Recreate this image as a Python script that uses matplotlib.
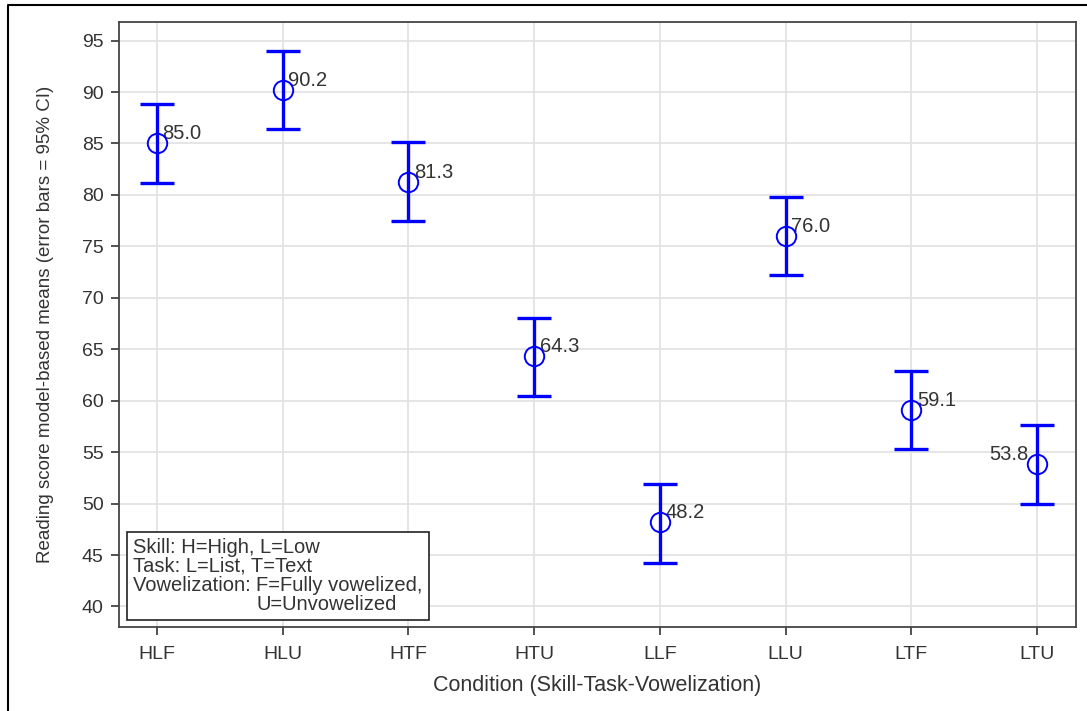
import matplotlib
matplotlib.use("Agg")
import matplotlib.pyplot as plt
import numpy as np
from matplotlib.lines import Line2D
from matplotlib.offsetbox import AnchoredOffsetbox, TextArea, VPacker, HPacker

plt.rcParams['font.family'] = ['Liberation Sans', 'DejaVu Sans']

# data
conditions = ['HLF', 'HLU', 'HTF', 'HTU', 'LLF', 'LLU', 'LTF', 'LTU']
means = [85.0, 90.2, 81.3, 64.3, 48.2, 76.0, 59.1, 53.8]
lower = [81.2, 86.4, 77.5, 60.5, 44.2, 72.2, 55.3, 50.0]
upper = [88.8, 94.0, 85.1, 68.0, 51.9, 79.8, 62.9, 57.6]
yticks = [40, 45, 50, 55, 60, 65, 70, 75, 80, 85, 90, 95]

txt = '#333333'
fig = plt.figure(figsize=(10.87, 7.11), dpi=100)
ax = fig.add_axes([0.1095, 0.1181, 0.8804, 0.8509])

x = np.arange(len(conditions))
m = np.array(means)
err = [m - np.array(lower), np.array(upper) - m]
ax.errorbar(x, m, yerr=err, fmt='none', ecolor='#0000FF', elinewidth=2.4,
            capsize=12, capthick=2.4, zorder=3)
ax.plot(x, m, 'o', ms=14, mfc='none', mec='#0000FF', mew=1.4, zorder=4)

for i, v in enumerate(means):
    if i == len(means) - 1:
        ax.annotate(f'{v:.1f}', (x[i], v), xytext=(-6, 0), textcoords='offset points',
                    ha='right', va='bottom', fontsize=14.5, color=txt)
    else:
        ax.annotate(f'{v:.1f}', (x[i], v), xytext=(4, 0), textcoords='offset points',
                    ha='left', va='bottom', fontsize=14.5, color=txt)

ax.set_xlim(-0.3, 7.31)
ax.set_ylim(38.0, 96.8)
ax.set_xticks(x)
ax.set_xticklabels(conditions)
ax.set_yticks(yticks)
ax.grid(True, color='#e3e3e3', lw=1.3)
ax.set_axisbelow(True)
ax.tick_params(direction='out', length=6, width=1.2, color='#333333',
               labelsize=14, labelcolor=txt, pad=5)
ax.tick_params(axis='x', pad=8)
for s in ax.spines.values():
    s.set_color('#444444')
    s.set_linewidth(1.3)

ax.set_xlabel('Condition (Skill-Task-Vowelization)', fontsize=15.5, color=txt, labelpad=8)
ax.set_ylabel('Reading score model-based means (error bars = 95% CI)', fontsize=13.5,
              color=txt, labelpad=20)

# key box in lower-left corner
tp = dict(fontsize=14.5, color=txt)
row3 = HPacker(children=[
    VPacker(children=[TextArea('Vowelization: ', textprops=tp)], pad=0, sep=0),
    VPacker(children=[TextArea('F=Fully vowelized,', textprops=tp),
                      TextArea('U=Unvowelized', textprops=tp)], pad=0, sep=0, align='left')],
    pad=0, sep=0, align='top')
box = VPacker(children=[TextArea('Skill: H=High, L=Low', textprops=tp),
                        TextArea('Task: L=List, T=Text', textprops=tp), row3],
              pad=0, sep=0, align='left')
anch = AnchoredOffsetbox(loc='lower left', child=box, pad=0.3, borderpad=0,
                         prop=dict(size=14.5),
                         bbox_to_anchor=(8 / 957, 7 / 605), bbox_transform=ax.transAxes,
                         frameon=True)
anch.patch.set_edgecolor('#222222')
anch.patch.set_linewidth(1.2)
anch.patch.set_boxstyle('square', pad=0)
ax.add_artist(anch)

# outer frame of the screenshot (left and top edges)
fig.add_artist(Line2D([8 / 1087, 8 / 1087, 1.0], [0.0, 1 - 5 / 711, 1 - 5 / 711],
                      transform=fig.transFigure, color='black', lw=1.5))

fig.savefig('out.png', dpi=100)
